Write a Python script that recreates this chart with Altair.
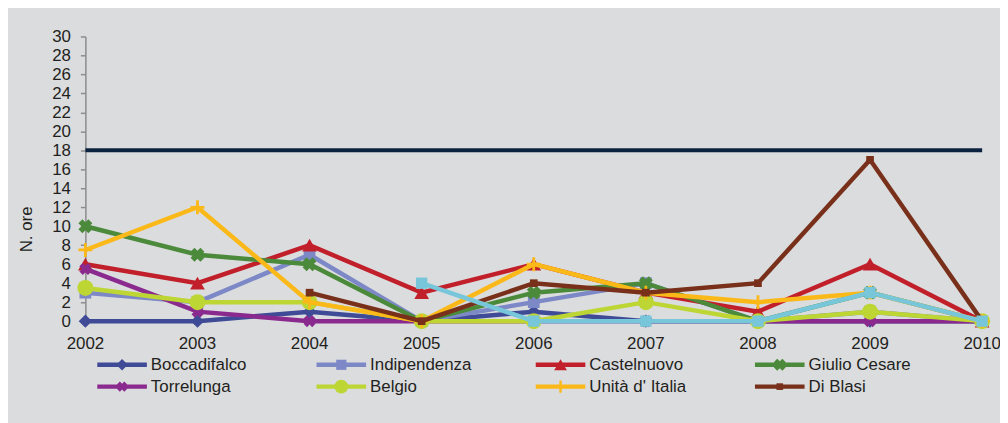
import altair as alt
import pandas as pd

# ---------------- data ----------------
years = [2002, 2003, 2004, 2005, 2006, 2007, 2008, 2009, 2010]
boccadifalco = [0, 0, 1, 0, 1, 0, 0, 0, 0]
indipendenza = [3, 2, 7, 0, 2, 4, 0, 1, 0]
castelnuovo = [6, 4, 8, 3, 6, 3, 1, 6, 0]
giulio_cesare = [10, 7, 6, 0, 3, 4, 0, 3, 0]
torrelunga = [5.5, 1, 0, 0, 0, 0, 0, 0, 0]
belgio = [3.5, 2, 2, 0, 0, 2, 0, 1, 0]
unita_italia = [7.5, 12, 2, 0, 6, 3, 2, 3, 0]
di_blasi = [None, None, 3, 0, 4, 3, 4, 17, 0]
serie_9 = [None, None, None, 4, 0, 0, 0, 3, 0]
limite = 18
y_ticks = [0, 2, 4, 6, 8, 10, 12, 14, 16, 18, 20, 22, 24, 26, 28, 30]

series_names = ["Boccadifalco", "Indipendenza", "Castelnuovo", "Giulio Cesare",
                "Torrelunga", "Belgio", "Unità d' Italia", "Di Blasi", "Serie 9"]
series_values = [boccadifalco, indipendenza, castelnuovo, giulio_cesare,
                 torrelunga, belgio, unita_italia, di_blasi, serie_9]
legend_names = series_names[:8]

rows = []
for name, vals in zip(series_names, series_values):
    for yr, v in zip(years, vals):
        if v is not None:
            rows.append({"anno": yr, "ore": v, "serie": name})
df = pd.DataFrame(rows)

# ---------------- styles ----------------
FONT = "Liberation Sans"
FS = 17
TXT = "#231f20"
BG = "#dbdcde"

colors = ["#3f4b96", "#7d88c6", "#c1202b", "#4b8a3b",
          "#8b2a8e", "#bdd633", "#fbb919", "#79301a", "#78c6d9"]

PLUS = "M-0.2,-1H0.2V-0.2H1V0.2H0.2V1H-0.2V0.2H-1V-0.2H-0.2Z"

marks = [
    dict(shape="diamond", size=180, angle=0),
    dict(shape="square", size=140, angle=0),
    dict(shape="triangle-up", size=220, angle=0),
    dict(shape="cross", size=200, angle=45),
    dict(shape="cross", size=150, angle=45),
    dict(shape="circle", size=260, angle=0),
    dict(shape=PLUS, size=196, angle=0),
    dict(shape="square", size=60, angle=0),
    dict(shape="square", size=130, angle=0),
]

# legend layout (pixels, relative to the plot area)
LEG_X0, LEG_STEP = 12, 221
LEG_Y0, LEG_ROW = 331, 22
LEG_COLS = 4

y_axis = alt.Axis(title="N. ore", values=y_ticks, grid=False,
                  tickSize=5, tickColor="#8c8c8c", tickWidth=1.5,
                  domainColor="#8c8c8c", domainWidth=1.5, labelOverlap=False,
                  labelPadding=10, labelFontSize=FS, labelColor=TXT, labelFont=FONT,
                  titleFontSize=FS, titleFont=FONT, titleColor=TXT, titleFontWeight="normal",
                  titleX=-50, titleY=194)
x_scale = alt.Scale(type="point", domain=years, padding=0)
y_scale = alt.Scale(domain=[0, 30], nice=False)

x_enc = alt.X("anno:O", scale=x_scale, axis=None)
y_enc = alt.Y("ore:Q", scale=y_scale, axis=y_axis)

layers = []

# year labels under the plot, placed by the x scale
year_labels = alt.Chart(pd.DataFrame({"anno": years})).mark_text(
    fontSize=FS, color=TXT, baseline="alphabetic", align="center"
).encode(x=x_enc, y=alt.value(315), text=alt.Text("anno:O"))
layers.append(year_labels)

limit_rule = alt.Chart(pd.DataFrame({"ore": [limite]})).mark_rule(
    color="#0c2340", strokeWidth=4).encode(y=y_enc)
layers.append(limit_rule)

base = alt.Chart(df)
for name, col, mk in zip(series_names, colors, marks):
    sub = base.transform_filter(alt.datum.serie == name)
    layers.append(sub.mark_line(color=col, strokeWidth=4.5).encode(x=x_enc, y=y_enc))
    layers.append(sub.mark_point(filled=True, opacity=1, color=col, shape=mk["shape"],
                                 size=mk["size"], angle=mk["angle"]).encode(x=x_enc, y=y_enc))

# hand-built legend: line + marker + label per series (4 columns x 2 rows)
for i, (name, col, mk) in enumerate(zip(legend_names, colors, marks)):
    c, r = i % LEG_COLS, i // LEG_COLS
    lx = LEG_X0 + c * LEG_STEP
    ly = LEG_Y0 + r * LEG_ROW
    ld = alt.Chart(pd.DataFrame({"serie": [name]}))
    layers.append(ld.mark_rule(color=col, strokeWidth=4.5).encode(
        x=alt.value(lx), x2=alt.value(lx + 50), y=alt.value(ly)))
    layers.append(ld.mark_point(filled=True, opacity=1, color=col, shape=mk["shape"],
                                size=mk["size"] * 0.75, angle=mk["angle"]).encode(
        x=alt.value(lx + 25), y=alt.value(ly)))
    layers.append(ld.mark_text(fontSize=FS, font=FONT, color=TXT, align="left",
                               baseline="middle").encode(
        x=alt.value(lx + 54), y=alt.value(ly), text=alt.Text("serie:N")))

chart = alt.layer(*layers).properties(
    width=904, height=287,
    autosize=alt.AutoSizeParams(type="none"),
    padding={"left": 78, "top": 27, "right": 18, "bottom": 101},
    background=BG,
).configure_view(stroke=None)

chart.save("out.html", embed_options={"renderer": "svg", "actions": False})
